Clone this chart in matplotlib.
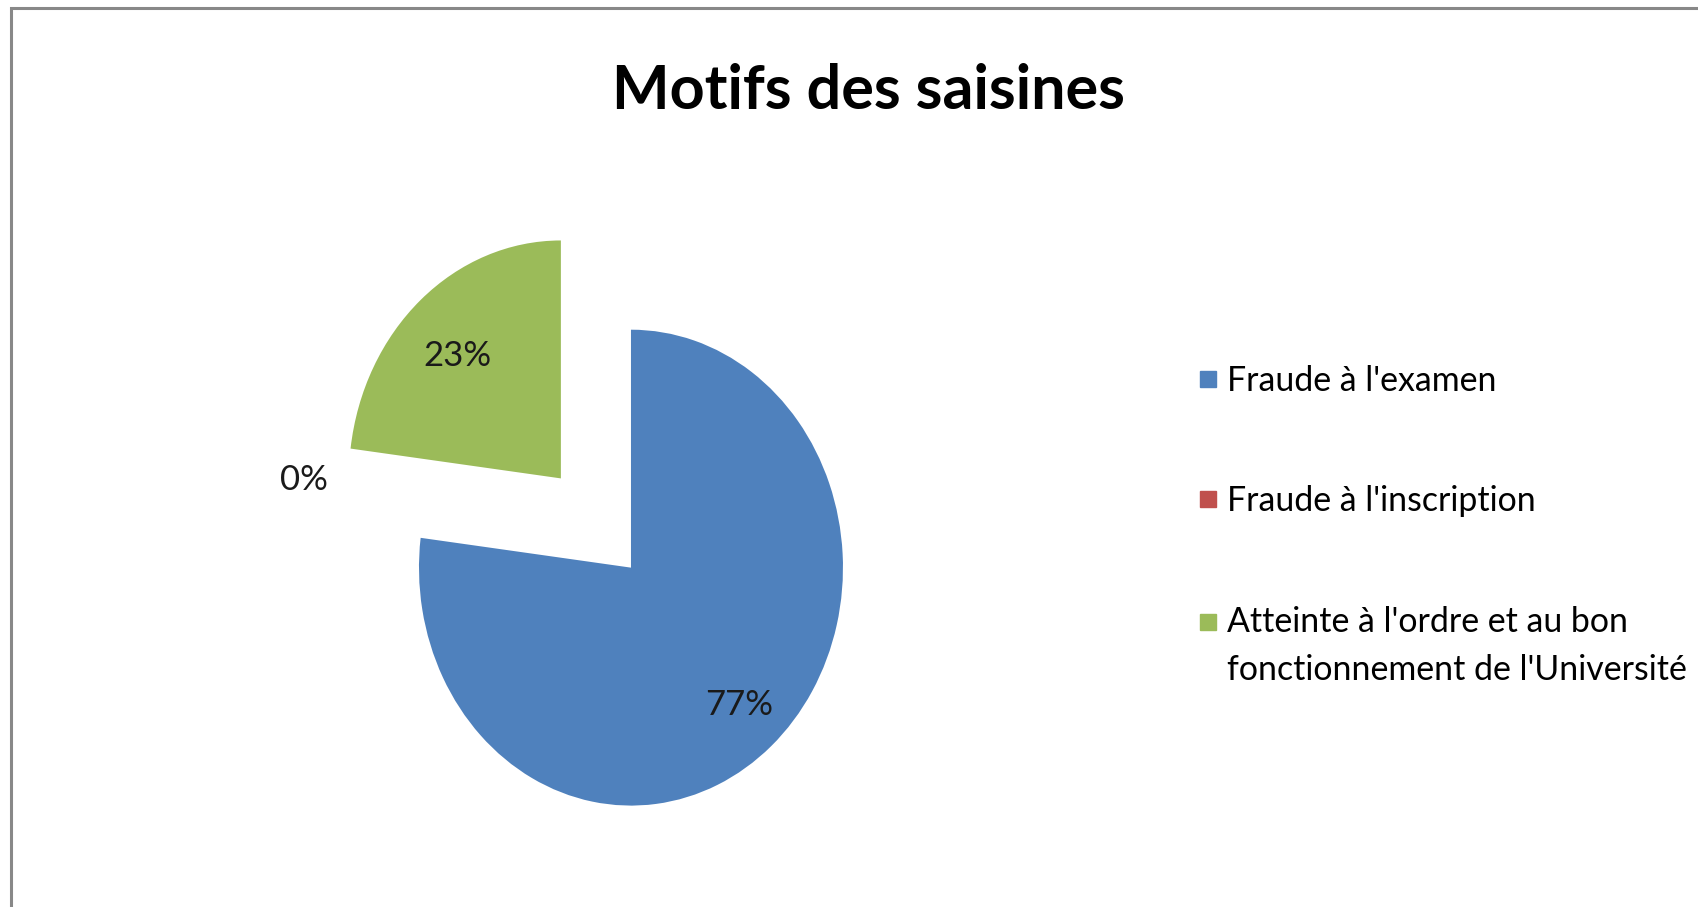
import numpy as np
import matplotlib
matplotlib.use("Agg")
import matplotlib.pyplot as plt
from matplotlib.lines import Line2D
from matplotlib.patches import Rectangle
from matplotlib.legend_handler import HandlerLine2D

plt.rcParams['font.family'] = ['Lato', 'DejaVu Sans']

# data
categories = ["Fraude à l'examen", "Fraude à l'inscription",
              "Atteinte à l'ordre et au bon\nfonctionnement de l'Université"]
values = [77, 0, 23]
colors = ['#4F81BD', '#C0504D', '#9BBB59']
explode = [0, 0.5, 0.5]

# label placement (distance from slice centre, angle nudge in degrees)
label_r = [0.77, 1.09, 0.71]
label_nudge = [0, -9, 2]


class FirstLineHandler(HandlerLine2D):
    # put the legend square next to the first line of a wrapped label
    def __init__(self, nlines, gap, **kw):
        super().__init__(**kw)
        self.shift = (nlines - 1) * gap

    def create_artists(self, legend, orig_handle, xdescent, ydescent,
                       width, height, fontsize, trans):
        return super().create_artists(legend, orig_handle, xdescent,
                                      ydescent - self.shift, width, height,
                                      fontsize, trans)


fig = plt.figure(figsize=(16.98, 9.07), dpi=100)
ax = fig.add_axes([0.1219, 0.0331, 0.4994, 0.7608])

wedges, texts, autotexts = ax.pie(values, colors=colors, startangle=90,
                                  counterclock=False, explode=explode,
                                  autopct='%1.0f%%',
                                  textprops=dict(fontsize=25, color='#1a1a1a'))
ax.set_aspect('auto')
ax.set_xlim(-2.0, 2.0)
ax.set_ylim(-1.3, 1.6)
ax.axis('off')

for w, t, r, nd in zip(wedges, autotexts, label_r, label_nudge):
    a = np.deg2rad((w.theta1 + w.theta2) / 2 + nd)
    cx, cy = w.center
    t.set_position((cx + r * np.cos(a), cy + r * np.sin(a)))
    t.set_ha('center')
    t.set_va('center')

fig.text(0.5115, 0.8798, 'Motifs des saisines', ha='center', va='baseline',
         fontsize=44, fontweight='bold', color='black')

handles = [Line2D([], [], marker='s', linestyle='none', markersize=12,
                  markerfacecolor=c, markeredgecolor=c) for c in colors]
hmap = {h: FirstLineHandler(lab.count('\n') + 1, 36)
        for h, lab in zip(handles, categories)}
leg = fig.legend(handles, categories, loc='upper left', handler_map=hmap,
                 bbox_to_anchor=(0.7067, 0.5981), frameon=False, fontsize=24.4,
                 handlelength=0.5, handletextpad=0.3, labelspacing=2.62,
                 borderpad=0, borderaxespad=0)
for t in leg.get_texts():
    t.set_linespacing(1.63)

# chart border (only top and left visible)
fig.add_artist(Rectangle((0.00677, -0.5), 2, 0.9917 + 0.5, fill=False,
                         edgecolor='#888888', linewidth=2.2,
                         transform=fig.transFigure))

fig.savefig('out.png', dpi=100)
